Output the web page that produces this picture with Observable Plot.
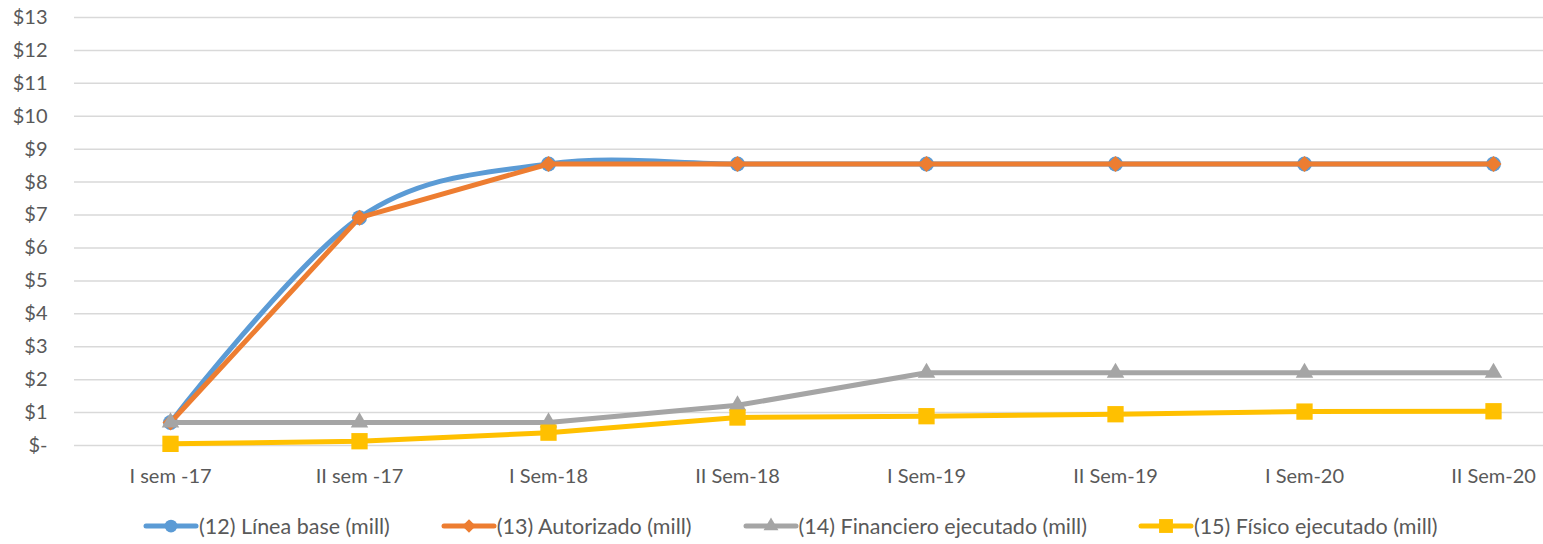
<!DOCTYPE html>
<html>
<head>
<meta charset="utf-8">
<script src="https://cdn.jsdelivr.net/npm/d3@7"></script>
<script src="https://cdn.jsdelivr.net/npm/@observablehq/plot@0.6"></script>
<style>
  html, body { margin: 0; padding: 0; background: #fff; }
  body { width: 1543px; height: 544px; overflow: hidden; font-family: Lato, "Open Sans", sans-serif; }
  #legend { display: flex; justify-content: flex-start; align-items: center; gap: 51px; padding-left: 143px; padding-top: 6px; height: 36px; font-size: 21.5px; color: #595959; white-space: nowrap; }
  .item { display: flex; align-items: center; }
  .item svg { display: block; }
</style>
</head>
<body>
<div id="chart"></div>
<div id="legend"></div>
<script>
const categories = ["I sem -17", "II sem -17", "I Sem-18", "II Sem-18", "I Sem-19", "II Sem-19", "I Sem-20", "II Sem-20"];
const lineaBase = [0.7, 6.92, 8.55, 8.55, 8.55, 8.55, 8.55, 8.55];
const autorizado = [0.7, 6.92, 8.55, 8.55, 8.55, 8.55, 8.55, 8.55];
const financiero = [0.7, 0.7, 0.7, 1.22, 2.21, 2.21, 2.21, 2.21];
const fisico = [0.05, 0.13, 0.39, 0.85, 0.89, 0.95, 1.03, 1.04];
const yTicks = [0, 1, 2, 3, 4, 5, 6, 7, 8, 9, 10, 11, 12, 13];

const series = [
  {name: "(12) Línea base (mill)", values: lineaBase, color: "#5B9BD5", symbol: "circle", r: 7.5, curve: "cardinal"},
  {name: "(13) Autorizado (mill)", values: autorizado, color: "#ED7D31", symbol: "diamond2", r: 7.2, curve: "linear"},
  {name: "(14) Financiero ejecutado (mill)", values: financiero, color: "#A5A5A5", symbol: "triangle", r: 6.5, curve: "linear"},
  {name: "(15) Físico ejecutado (mill)", values: fisico, color: "#FFC000", symbol: "square", r: 9.2, curve: "linear"}
];

const marks = [Plot.ruleY(yTicks, {stroke: "#d9d9d9", strokeWidth: 1.5})];
for (const s of series) {
  const data = categories.map((c, i) => ({cat: c, v: s.values[i]}));
  marks.push(Plot.line(data, {x: "cat", y: "v", stroke: s.color, strokeWidth: 5, curve: s.curve, strokeLinecap: "round", strokeLinejoin: "round"}));
  marks.push(Plot.dot(data, {x: "cat", y: "v", fill: s.color, stroke: "none", symbol: s.symbol, r: s.r}));
}

const chart = Plot.plot({
  width: 1543,
  height: 502,
  marginLeft: 74,
  marginRight: 0,
  marginTop: 17,
  marginBottom: 57,
  style: {fontFamily: "Lato, 'Open Sans', sans-serif", fontSize: "20px", color: "#595959", background: "#fff"},
  x: {type: "point", domain: categories, range: [168, 1495], padding: 0, label: null, tickSize: 0, tickPadding: 23},
  y: {domain: [0, 13], ticks: yTicks, label: null, tickSize: 0, tickPadding: 27, tickFormat: d => d === 0 ? "$-" : "$" + d},
  marks
});
document.getElementById("chart").appendChild(chart);

const legend = document.getElementById("legend");
const symMap = {circle: d3.symbolCircle, diamond2: d3.symbolDiamond2, triangle: d3.symbolTriangle, square: d3.symbolSquare};
for (const s of series) {
  const item = document.createElement("div");
  item.className = "item";
  const sw = d3.create("svg").attr("width", 56).attr("height", 22);
  sw.append("line").attr("x1", 3).attr("x2", 53).attr("y1", 11).attr("y2", 11)
    .attr("stroke", s.color).attr("stroke-width", 5).attr("stroke-linecap", "round");
  const rr = s.r * 0.85;
  sw.append("path").attr("transform", "translate(28,11)")
    .attr("d", d3.symbol(symMap[s.symbol], Math.PI * rr * rr)()).attr("fill", s.color);
  item.appendChild(sw.node());
  const t = document.createElement("span");
  t.textContent = s.name;
  item.appendChild(t);
  legend.appendChild(item);
}
</script>
</body>
</html>
